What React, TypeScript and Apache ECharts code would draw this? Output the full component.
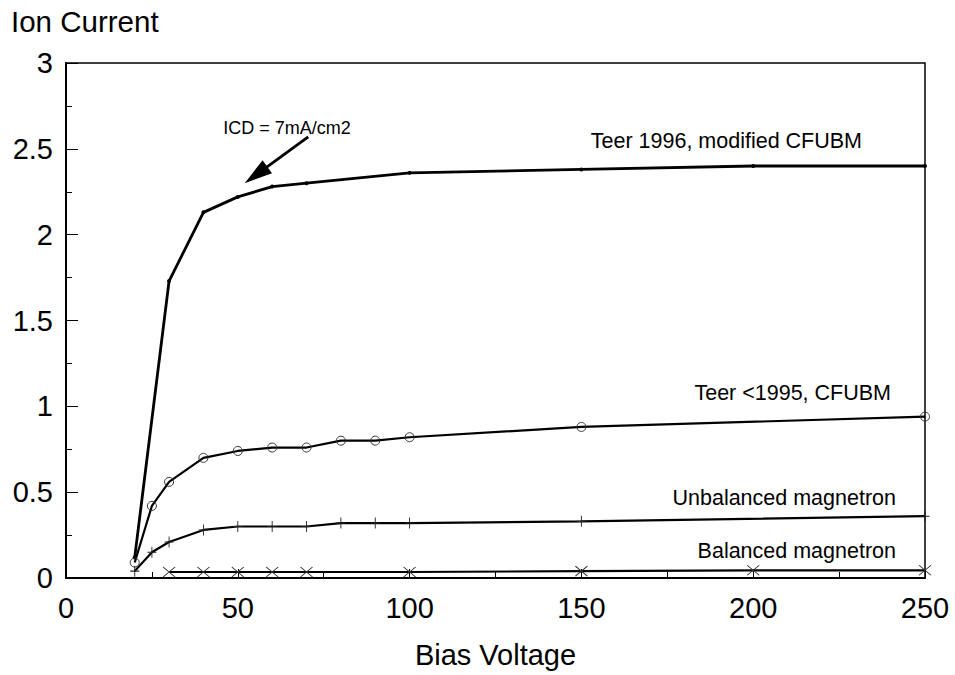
import React, { useEffect, useRef } from "react";
import * as echarts from "echarts";

// Bias voltage values (x) for each series
const voltageTeer1996 = [20, 30, 40, 50, 60, 70, 100, 150, 200, 250];
const teer1996 = [0.12, 1.73, 2.13, 2.22, 2.28, 2.3, 2.36, 2.38, 2.4, 2.4];

const voltageTeer1995 = [20, 25, 30, 40, 50, 60, 70, 80, 90, 100, 150, 250];
const teer1995 = [0.09, 0.42, 0.56, 0.7, 0.74, 0.76, 0.76, 0.8, 0.8, 0.82, 0.88, 0.94];

const voltageUnbalanced = [20, 25, 30, 40, 50, 60, 70, 80, 90, 100, 150, 250];
const unbalanced = [0.04, 0.15, 0.21, 0.28, 0.3, 0.3, 0.3, 0.32, 0.32, 0.32, 0.33, 0.36];

const voltageBalanced = [30, 40, 50, 60, 70, 100, 150, 200, 250];
const balanced = [0.035, 0.035, 0.035, 0.035, 0.035, 0.035, 0.04, 0.045, 0.045];

const seriesNames = [
  "Teer 1996, modified CFUBM",
  "Teer <1995, CFUBM",
  "Unbalanced magnetron",
  "Balanced magnetron",
];
const annotationText = "ICD = 7mA/cm2";
const arrowTip = [52, 2.3];
const arrowTail = [70.5, 2.57];

const FONT = "Liberation Sans, Arial, sans-serif";

const zip = (xs: number[], ys: number[]) => xs.map((x, i) => [x, ys[i]]);

export default function App() {
  const ref = useRef<HTMLDivElement>(null);
  useEffect(() => {
    document.body.style.margin = "0";
    const chart = echarts.init(ref.current!, null, { renderer: "svg" });
    const lineBase = {
      type: "line",
      animation: false,
      lineStyle: { color: "#000", width: 2.2 },
      itemStyle: { color: "#000" },
    };
    chart.setOption({
      animation: false,
      backgroundColor: "#fff",
      grid: {
        left: 66,
        top: 63,
        right: 30,
        bottom: 97,
        show: true,
        borderColor: "#000",
        borderWidth: 1.5,
      },
      xAxis: {
        type: "value",
        min: 0,
        max: 250,
        interval: 50,
        name: "Bias Voltage",
        nameLocation: "middle",
        nameGap: 62,
        nameTextStyle: { fontFamily: FONT, fontSize: 29, color: "#000" },
        axisLine: { lineStyle: { color: "#000", width: 2 } },
        axisTick: { inside: true, length: 9, lineStyle: { color: "#000", width: 1 } },
        minorTick: { show: true, splitNumber: 2, length: 6, lineStyle: { color: "#000", width: 1 } },
        splitLine: { show: false },
        axisLabel: { fontFamily: FONT, fontSize: 29, color: "#000", margin: 15 },
      },
      yAxis: {
        type: "value",
        min: 0,
        max: 3,
        interval: 0.5,
        axisLine: { show: true, lineStyle: { color: "#000", width: 2 } },
        axisTick: { show: true, inside: true, length: 12, lineStyle: { color: "#000", width: 1 } },
        minorTick: { show: true, splitNumber: 2, length: 6, lineStyle: { color: "#000", width: 1 } },
        splitLine: { show: false },
        axisLabel: { fontFamily: FONT, fontSize: 29, color: "#000", margin: 13 },
      },
      series: [
        {
          ...lineBase,
          name: seriesNames[0],
          data: zip(voltageTeer1996, teer1996),
          symbol: "circle",
          symbolSize: 4,
          lineStyle: { color: "#000", width: 2.8 },
        },
        {
          ...lineBase,
          name: seriesNames[1],
          data: zip(voltageTeer1995, teer1995),
          symbol: "circle",
          symbolSize: 9,
          itemStyle: { color: "rgba(0,0,0,0)", borderColor: "#333", borderWidth: 1 },
        },
        {
          ...lineBase,
          name: seriesNames[2],
          data: zip(voltageUnbalanced, unbalanced),
          symbol: "path://M5,0V10M0,5H10",
          symbolSize: [9, 11],
          itemStyle: { color: "rgba(0,0,0,0)", borderColor: "#222", borderWidth: 1 },
        },
        {
          ...lineBase,
          name: seriesNames[3],
          data: zip(voltageBalanced, balanced),
          symbol: "path://M0,0L10,10M0,10L10,0",
          symbolSize: [12, 10],
          itemStyle: { color: "rgba(0,0,0,0)", borderColor: "#333", borderWidth: 1 },
        },
      ],
    });

    const tip = chart.convertToPixel({ gridIndex: 0 }, arrowTip) as number[];
    const tail = chart.convertToPixel({ gridIndex: 0 }, arrowTail) as number[];
    const dx = tail[0] - tip[0];
    const dy = tail[1] - tip[1];
    const len = Math.sqrt(dx * dx + dy * dy);
    const ux = dx / len;
    const uy = dy / len;
    const headLen = 28;
    const halfW = 8;
    const bx = tip[0] + ux * headLen;
    const by = tip[1] + uy * headLen;
    const px = -uy;
    const py = ux;

    const labelStyle = (text: string) => ({
      text,
      fontFamily: FONT,
      fontSize: 21.5,
      fill: "#000",
      textAlign: "right",
      textVerticalAlign: "middle",
    });

    chart.setOption({
      graphic: [
        {
          type: "text",
          x: 11,
          y: 21,
          style: {
            text: "Ion Current",
            fontFamily: FONT,
            fontSize: 29.5,
            fill: "#000",
            textAlign: "left",
            textVerticalAlign: "middle",
          },
        },
        { type: "text", x: 862, y: 141, style: labelStyle(seriesNames[0]) },
        { type: "text", x: 891, y: 393, style: labelStyle(seriesNames[1]) },
        { type: "text", x: 896, y: 498, style: labelStyle(seriesNames[2]) },
        { type: "text", x: 896, y: 551, style: labelStyle(seriesNames[3]) },
        {
          type: "text",
          x: 287,
          y: 128,
          style: {
            text: annotationText,
            fontFamily: FONT,
            fontSize: 18,
            fill: "#000",
            textAlign: "center",
            textVerticalAlign: "middle",
          },
        },
        {
          type: "line",
          shape: { x1: tail[0], y1: tail[1], x2: bx - ux * 2, y2: by - uy * 2 },
          style: { stroke: "#000", lineWidth: 2.8 },
        },
        {
          type: "polygon",
          shape: {
            points: [
              [tip[0], tip[1]],
              [bx + px * halfW, by + py * halfW],
              [bx - px * halfW, by - py * halfW],
            ],
          },
          style: { fill: "#000" },
        },
      ],
    });

    return () => chart.dispose();
  }, []);
  return <div ref={ref} style={{ width: 955, height: 675 }} />;
}
